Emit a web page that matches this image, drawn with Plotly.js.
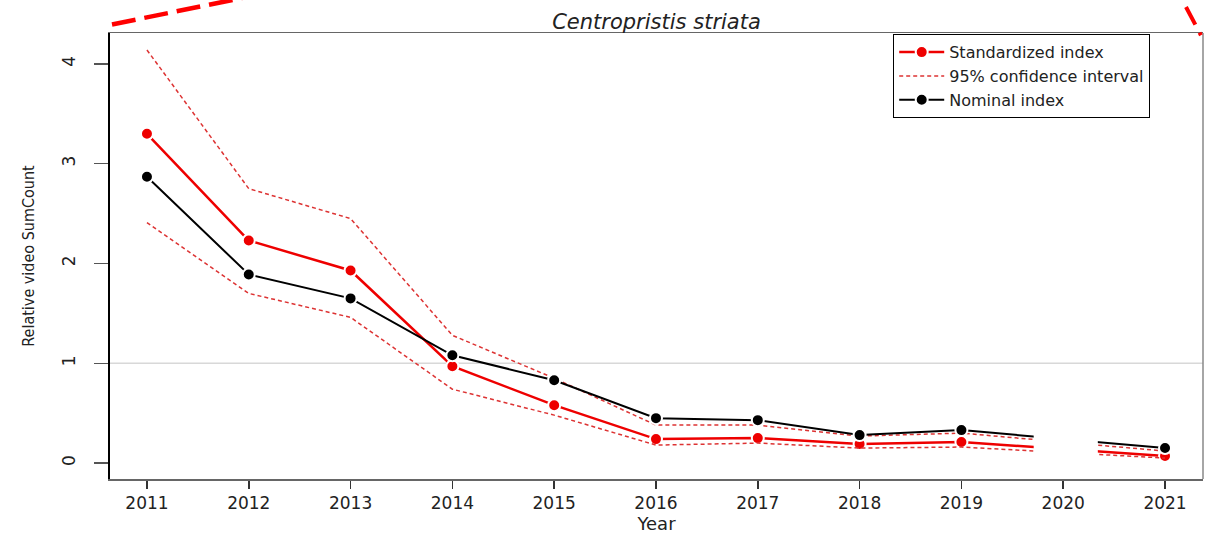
<!DOCTYPE html>
<html>
<head>
<meta charset="utf-8">
<script src="https://cdn.plot.ly/plotly-3.0.1.min.js"></script>
<style>html,body{margin:0;padding:0;background:#fff;}#chart{width:1205px;height:534px;}</style>
</head>
<body>
<div id="chart"></div>
<script>
const years = [2011, 2012, 2013, 2014, 2015, 2016, 2017, 2018, 2019, 2020, 2021];
const standardized = [3.30, 2.23, 1.93, 0.97, 0.58, 0.24, 0.25, 0.19, 0.21, null, 0.07];
const nominal = [2.87, 1.89, 1.65, 1.08, 0.83, 0.45, 0.43, 0.28, 0.33, null, 0.15];
const ciUpper = [4.14, 2.75, 2.45, 1.28, 0.85, 0.38, 0.38, 0.27, 0.30, null, 0.12];
const ciLower = [2.41, 1.70, 1.46, 0.74, 0.48, 0.18, 0.20, 0.15, 0.16, null, 0.05];
const yTicks = [0, 1, 2, 3, 4];

const L = 110, R = 1203, T = 33, B = 479, W = 1205, H = 534;
const px = x => (x - L) / (R - L);
const py = y => (B - y) / (B - T);

const FONT = 'DejaVu Sans, Liberation Sans, Arial, sans-serif';
const ciStyle = {color: '#dd3333', width: 1.5, dash: '4px,3px'};

const traces = [
  {x: years, y: standardized, name: 'Standardized index', type: 'scatter', mode: 'lines+markers', connectgaps: true,
   line: {color: '#ee0000', width: 2.5}, marker: {color: '#ee0000', size: 12, line: {color: '#fff', width: 2}}},
  {x: years, y: ciUpper, name: '95% confidence interval', type: 'scatter', mode: 'lines', connectgaps: true,
   line: ciStyle, legendgroup: 'ci'},
  {x: years, y: ciLower, name: '95% confidence interval', type: 'scatter', mode: 'lines', connectgaps: true,
   line: ciStyle, legendgroup: 'ci', showlegend: false},
  {x: years, y: nominal, name: 'Nominal index', type: 'scatter', mode: 'lines+markers', connectgaps: true,
   line: {color: '#000', width: 2}, marker: {color: '#000', size: 12, line: {color: '#fff', width: 2}}}
];

const layout = {
  width: W, height: H,
  margin: {l: L, r: W - R, t: T, b: H - B, pad: 0},
  paper_bgcolor: '#fff', plot_bgcolor: '#fff',
  font: {family: FONT, color: '#222', size: 16},
  title: {text: 'Centropristis striata', font: {size: 21, style: 'italic', family: FONT, color: '#222'},
          x: 0.5, xref: 'paper', y: 1 - 22/H, yanchor: 'middle'},
  xaxis: {range: [2010.637, 2021.373], tickvals: years, ticktext: years.map(String),
          showgrid: false, zeroline: false, showline: true, linecolor: '#666', linewidth: 1.5, mirror: true,
          ticks: 'outside', ticklen: 8, tickcolor: '#333', tickwidth: 1.5,
          tickfont: {size: 17, family: FONT}, title: {text: 'Year', font: {size: 18, family: FONT}, standoff: 8}},
  yaxis: {range: [-0.16, 4.31], tickvals: yTicks, ticktext: yTicks.map(String), tickangle: -90,
          showgrid: false, zeroline: false, showline: true, linecolor: '#000', linewidth: 2.5,
          ticks: 'outside', ticklen: 14, tickcolor: '#555', tickwidth: 1.5, ticklabelstandoff: 12,
          tickfont: {size: 17, family: FONT},
          title: {text: 'Relative video SumCount', standoff: 20,
                  font: {size: 16, family: 'Liberation Sans Narrow, DejaVu Sans Condensed, Roboto Condensed, Liberation Sans, sans-serif'}}},
  legend: {x: px(893), y: 1 - 1/(B-T), xanchor: 'left', yanchor: 'top', bordercolor: '#000', borderwidth: 1.2,
           bgcolor: '#fff', font: {size: 16, color: '#222', family: FONT}, tracegroupgap: 0, itemwidth: 45},
  shapes: [
    {type: 'line', xref: 'paper', yref: 'y', x0: 0, x1: 1, y0: 1, y1: 1, line: {color: '#d8d8d8', width: 1.5}, layer: 'below'},
    {type: 'rect', xref: 'x', yref: 'y', x0: 2019.71, x1: 2020.34, y0: -0.12, y1: 0.6, fillcolor: '#fff', line: {width: 0}, layer: 'above'},
    {type: 'line', xref: 'paper', yref: 'paper', x0: 1, x1: 1, y0: 0, y1: 1, line: {color: '#888', width: 1.5}},
    {type: 'line', xref: 'paper', yref: 'paper', x0: px(112), y0: py(24.5), x1: px(242), y1: py(-2), line: {color: '#ff0000', width: 4.5, dash: '24px,9px'}},
    {type: 'line', xref: 'paper', yref: 'paper', x0: px(1186), y0: py(7), x1: px(1205), y1: py(43), line: {color: '#ff0000', width: 4, dash: '20px,9px,3px,20px'}}
  ]
};

Plotly.newPlot('chart', traces, layout, {displayModeBar: false, staticPlot: true});
</script>
</body>
</html>
